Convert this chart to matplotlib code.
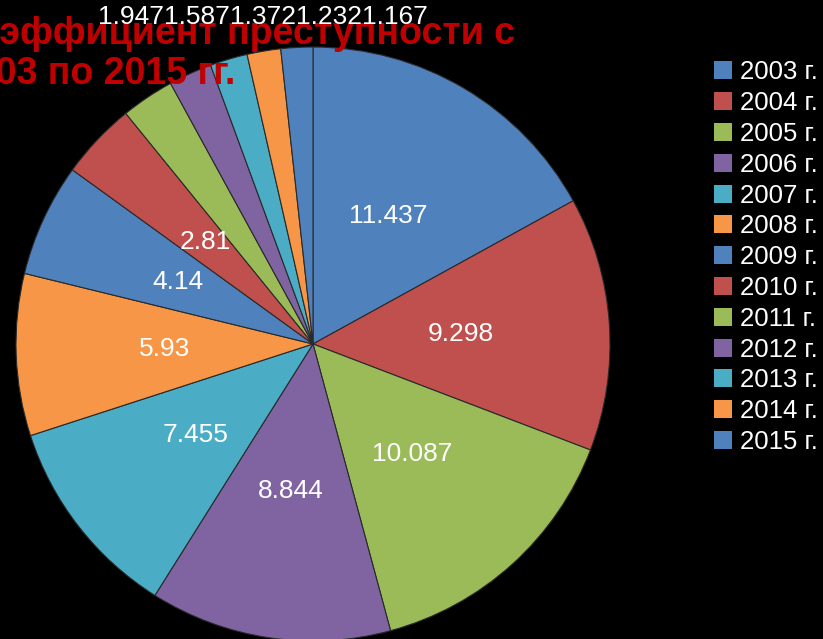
import numpy as np
import matplotlib.pyplot as plt

plt.rcParams['font.family'] = ['Liberation Sans', 'DejaVu Sans']

years = ['2003 г.', '2004 г.', '2005 г.', '2006 г.', '2007 г.', '2008 г.',
         '2009 г.', '2010 г.', '2011 г.', '2012 г.', '2013 г.', '2014 г.',
         '2015 г.']
values = [11.437, 9.298, 10.087, 8.844, 7.455, 5.93, 4.14, 2.81,
          1.947, 1.587, 1.372, 1.232, 1.167]
value_labels = ['11.437', '9.298', '10.087', '8.844', '7.455', '5.93',
                '4.14', '2.81', '1.947', '1.587', '1.372', '1.232', '1.167']
title = 'Коэффициент преступности с\n2003 по 2015 гг.'

palette = ['#4F81BD', '#C0504D', '#9BBB59', '#8064A2', '#4BACC6', '#F79646']
colors = [palette[i % len(palette)] for i in range(len(values))]

W, H = 823, 639
fig = plt.figure(figsize=(W / 100, H / 100), dpi=100)
fig.patch.set_facecolor('black')

# pie axes: centre (313, 344) px from top-left, radius 297 px
r = 297
cx, cy = 313, 344
ax = fig.add_axes([(cx - r) / W, (H - cy - r) / H, 2 * r / W, 2 * r / H])
ax.set_facecolor('black')

wedges, _ = ax.pie(values, colors=colors, startangle=90, counterclock=False,
                   radius=1,
                   wedgeprops=dict(edgecolor='#2a2a2a', linewidth=0.8))
for w in wedges:
    w.set_clip_on(False)
ax.set_xlim(-1, 1)
ax.set_ylim(-1, 1)
ax.set_aspect('equal')
ax.axis('off')

total = sum(values)
cum = 0
n_inside = 8
for i, v in enumerate(values):
    mid = (cum + v / 2) / total
    cum += v
    if i < n_inside:
        ang = np.deg2rad(90 - mid * 360)
        ax.text(0.5 * np.cos(ang), 0.5 * np.sin(ang), value_labels[i],
                color='white', fontsize=19, ha='center', va='center',
                zorder=5)

# small slices: labels crowded above the pie, as in the original
for k, lab in enumerate(value_labels[n_inside:]):
    fig.text((131 + 66 * k) / W, 1 - 17 / H, lab, color='white',
             fontsize=19, ha='center', va='center', zorder=6)

fig.text(-46 / W, 1 - 16 / H, title, color='#C00000', fontsize=27,
         fontweight='bold', ha='left', va='top', linespacing=1.15, zorder=4)

handles = [plt.Rectangle((0, 0), 1, 1, facecolor=c) for c in colors]
leg = fig.legend(handles, years, loc='upper left',
                 bbox_to_anchor=(704 / W, 1 - 50 / H), frameon=False,
                 fontsize=18.5, labelcolor='white', handlelength=0.7,
                 handleheight=0.7, handletextpad=0.3, labelspacing=0.265,
                 borderaxespad=0)

fig.savefig('out.png', dpi=100, facecolor='black')
